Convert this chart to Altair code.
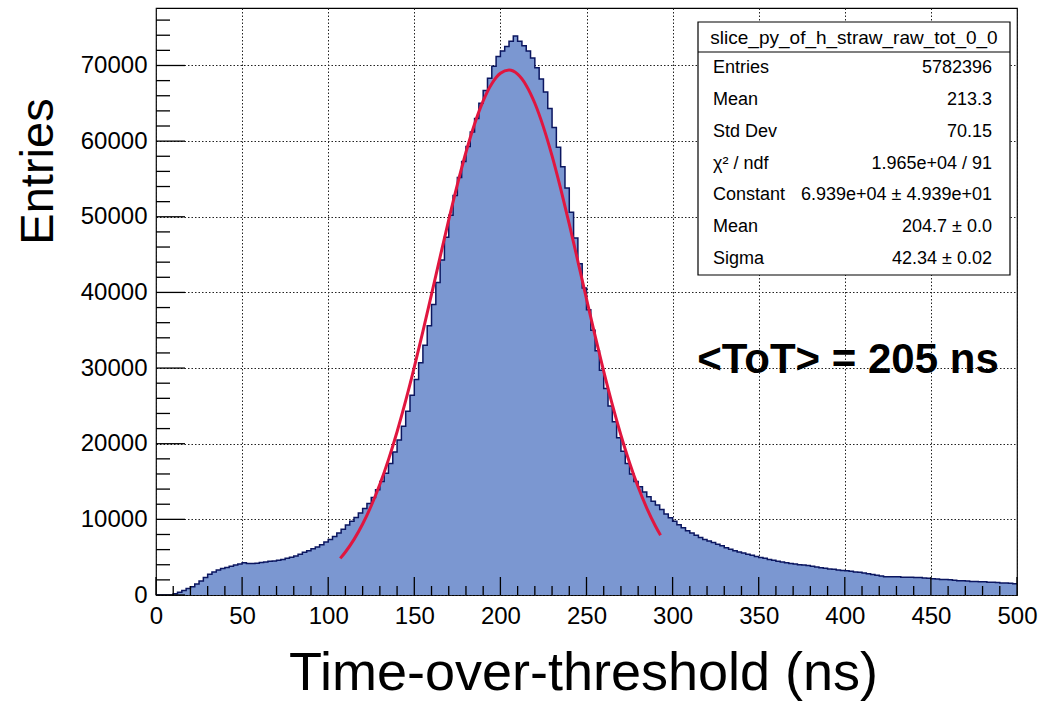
import altair as alt
import pandas as pd

# ---------------- data ----------------
BIN_WIDTH = 2.5
X_MIN, X_MAX = 0, 500
Y_MAX = 77600

COUNTS = [
    0, 0, 0, 0, 150, 350, 600, 850, 1100, 1450, 1850, 2300, 2750, 3050, 3300, 3500, 3650, 3800, 3950, 4100,
    4250, 4150, 4150, 4200, 4300, 4350, 4450, 4500, 4600, 4700, 4850, 5000, 5150, 5400, 5650, 5850, 6100, 6350, 6650, 7000,
    7350, 7750, 8200, 8700, 9250, 9750, 10250, 10850, 11450, 12100, 12900, 13900, 15000, 16100, 17400, 18900, 20500, 22300, 24300, 26400,
    28500, 30700, 33000, 35600, 38400, 41300, 44300, 47300, 50200, 52800, 55200, 57300, 59300, 61200, 63000, 65000, 66700, 68300, 69900, 71200,
    71900, 72500, 73200, 73900, 73200, 72600, 71900, 71000, 69700, 68200, 66500, 64300, 61800, 59200, 56600, 53800, 50600, 47200, 43800, 40600,
    37700, 35000, 32300, 29700, 27300, 25000, 22900, 20800, 19000, 17400, 16000, 15000, 14300, 13600, 13000, 12400, 11900, 11300, 10700, 10200,
    9750, 9300, 8900, 8500, 8200, 7900, 7600, 7350, 7150, 6950, 6700, 6500, 6250, 6050, 5850, 5700, 5550, 5400, 5250, 5100,
    4950, 4850, 4700, 4600, 4450, 4350, 4250, 4150, 4100, 4000, 3950, 3900, 3800, 3700, 3600, 3550, 3450, 3400, 3300, 3250,
    3200, 3150, 3050, 3000, 2900, 2800, 2700, 2600, 2500, 2400, 2400, 2400, 2400, 2350, 2350, 2350, 2300, 2300, 2250, 2200,
    2150, 2100, 2050, 2050, 2000, 1950, 1900, 1900, 1850, 1800, 1800, 1750, 1750, 1700, 1700, 1650, 1600, 1600, 1550, 1500,
]

FIT_X = [107, 110, 115, 120, 125, 130, 135, 140, 145, 150, 155, 160, 165, 170, 175, 180, 185, 190, 195, 200,
         205, 210, 215, 220, 225, 230, 235, 240, 245, 250, 255, 260, 265, 270, 275, 280, 285, 290, 293]
FIT_Y = [4843, 5688, 7355, 9382, 11800, 14634, 17898, 21587, 25681, 30118, 34843, 39743, 44710, 49599, 54254,
         58531, 62272, 65331, 67593, 68964, 69389, 68849, 67367, 65004, 61856, 58047, 53711, 49016, 44115,
         39148, 34263, 29572, 25169, 21124, 17483, 14271, 11488, 9119, 7888]

X_MAJOR = list(range(0, 501, 50))
X_MINOR = [v for v in range(0, 501, 10) if v % 50 != 0]
Y_MAJOR = list(range(0, 70001, 10000))
Y_MINOR = [v for v in range(0, 77001, 2000) if v % 10000 != 0]

STATS_TITLE = "slice_py_of_h_straw_raw_tot_0_0"
STAT_LABELS = ["Entries", "Mean", "Std Dev", "\u03c7\u00b2 / ndf", "Constant", "Mean", "Sigma"]
STAT_VALUES = ["5782396", "213.3", "70.15", "1.965e+04 / 91", "6.939e+04 \u00b1 4.939e+01",
               "204.7 \u00b1 0.0", "42.34 \u00b1 0.02"]
ANNOTATION = "<ToT> = 205 ns"
X_TITLE = "Time-over-threshold (ns)"
Y_TITLE = "Entries"

# ---------------- layout / style ----------------
W, H = 861, 587
FONT = "Liberation Sans"
FILL = "#7b97d1"
EDGE = "#0b1660"
RED = "#e0163f"
GRID = dict(grid=True, gridDash=[1.5, 2], gridColor="#222222", gridOpacity=1, gridWidth=1)

edges = [i * BIN_WIDTH for i in range(len(COUNTS))]
hist_df = pd.DataFrame({"x": edges + [X_MAX], "y": COUNTS + [COUNTS[-1]]})
fit_df = pd.DataFrame({"x": FIT_X, "y": FIT_Y})

xs = alt.Scale(domain=[X_MIN, X_MAX], nice=False, zero=False)
ys = alt.Scale(domain=[0, Y_MAX], nice=False)

x_axis = alt.Axis(
    values=X_MAJOR, **GRID,
    tickSize=0, ticks=False, domain=False, labelFontSize=24, labelFont=FONT, labelColor="#000000",
    labelPadding=9, labelOverlap=False, labelFlush=False, labelBound=False,
    title=X_TITLE, titleFont=FONT, titleFontSize=54, titleFontWeight="normal",
    titleColor="#000000", titleX=427, titleY=94, titleAnchor="middle",
    titleAlign="center", titleBaseline="alphabetic",
)
y_axis = alt.Axis(
    values=Y_MAJOR, format="d", **GRID,
    tickSize=0, ticks=False, domain=False, labelFontSize=24, labelFont=FONT, labelColor="#000000",
    labelPadding=9, labelOverlap=False, labelFlush=False, labelBound=False,
    title=Y_TITLE, titleFont=FONT, titleFontSize=47, titleFontWeight="normal",
    titleColor="#000000", titleAngle=270, titleX=-104, titleY=163,
    titleAlign="center", titleBaseline="alphabetic",
)

def X(field):
    return alt.X(field, scale=xs, axis=x_axis)

def Y(field):
    return alt.Y(field, scale=ys, axis=y_axis)

area = alt.Chart(hist_df).mark_area(interpolate="step-after", color=FILL, clip=True).encode(
    x=X("x:Q"), y=Y("y:Q"))
outline = alt.Chart(hist_df).mark_line(interpolate="step-after", color=EDGE, strokeWidth=1.5, clip=True).encode(
    x=X("x:Q"), y=Y("y:Q"))
fit = alt.Chart(fit_df).mark_line(interpolate="monotone", color=RED, strokeWidth=3).encode(
    x=X("x:Q"), y=Y("y:Q"))

# inward ticks
def xticks(vals, length):
    return alt.Chart(pd.DataFrame({"v": vals})).mark_rule(color="#000000", strokeWidth=1.3).encode(
        x=X("v:Q"), y=alt.value(H), y2=alt.value(H - length))

def yticks(vals, length):
    return alt.Chart(pd.DataFrame({"v": vals})).mark_rule(color="#000000", strokeWidth=1.3).encode(
        y=Y("v:Q"), x=alt.value(0), x2=alt.value(length))

one = pd.DataFrame({"a": [0]})

# stats box
BX0, BX1, BY0, BY1, BHEAD = 542, 854, 14, 267, 44
box = alt.Chart(one).mark_rect(fill="white", stroke="#000000", strokeWidth=1.2).encode(
    x=alt.value(BX0), x2=alt.value(BX1), y=alt.value(BY0), y2=alt.value(BY1))
head_line = alt.Chart(one).mark_rule(color="#000000", strokeWidth=1.2).encode(
    x=alt.value(BX0), x2=alt.value(BX1), y=alt.value(BHEAD))
head_text = alt.Chart(one).mark_text(font=FONT, fontSize=19, color="#000000", align="center",
                                     baseline="middle", text=STATS_TITLE).encode(
    x=alt.value((BX0 + BX1) / 2), y=alt.value((BY0 + BHEAD) / 2 + 1))

rows_df = pd.DataFrame({"label": STAT_LABELS, "value": STAT_VALUES, "row": list(range(len(STAT_LABELS)))})
row_h = (BY1 - BHEAD) / len(STAT_LABELS)
rows_base = alt.Chart(rows_df).transform_calculate(py=f"{BHEAD} + {row_h / 2} + {row_h} * datum.row")
row_labels = rows_base.mark_text(font=FONT, fontSize=18, color="#000000", align="left", baseline="middle").encode(
    x=alt.value(BX0 + 15), y=alt.Y("py:Q", scale=None), text="label:N")
row_values = rows_base.mark_text(font=FONT, fontSize=18, color="#000000", align="right", baseline="middle").encode(
    x=alt.value(BX1 - 18), y=alt.Y("py:Q", scale=None), text="value:N")

annot = alt.Chart(one).mark_text(font=FONT, fontSize=42, fontWeight="bold", color="#000000",
                                 align="center", baseline="alphabetic", text=ANNOTATION).encode(
    x=alt.value(692), y=alt.value(365))

chart = alt.layer(
    area, outline, fit,
    xticks(X_MAJOR, 18), xticks(X_MINOR, 9),
    yticks(Y_MAJOR, 29), yticks(Y_MINOR, 14),
    box, head_line, head_text, row_labels, row_values, annot,
).properties(
    width=W, height=H,
    autosize=alt.AutoSizeParams(type="none"),
    padding={"left": 156, "top": 8, "right": 26, "bottom": 106},
    background="white",
).configure_view(stroke="#000000", strokeWidth=1.2)

chart.save("out.html", embed_options={"renderer": "svg", "actions": False})
